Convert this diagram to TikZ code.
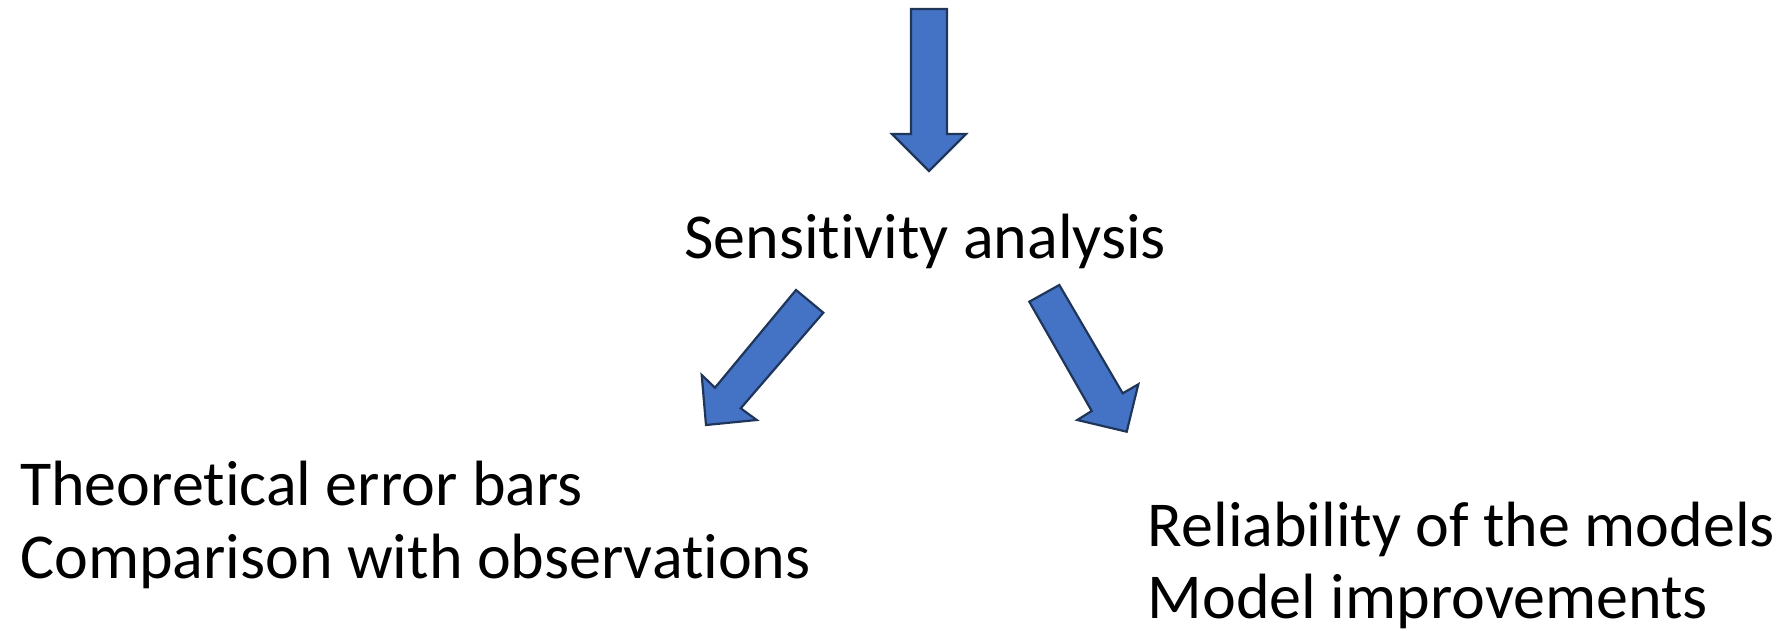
\documentclass[tikz,border=0pt]{standalone}
\usepackage{fontspec}
\setmainfont[Ligatures=NoCommon]{Carlito}
\definecolor{arrowfill}{HTML}{4472C4}
\definecolor{arrowline}{HTML}{1F3559}
\tikzset{
  blockarrow/.style={fill=arrowfill, draw=arrowline, line width=2.2pt, line join=miter},
  label/.style={anchor=base west, inner sep=0pt, font=\fontsize{64}{74}\selectfont}
}
\begin{document}
\begin{tikzpicture}[x=1pt,y=-1pt]
\useasboundingbox (0,0) rectangle (1778,631);
% top arrow
\draw[blockarrow] (911,9) -- (947,9) -- (947,134) -- (966,134) -- (929,171) -- (892,134) -- (911,134) -- cycle;
% texts
\node[label] (sens) at (684,258.6) {Sensitivity analysis};
\node[label] (teb) at (20,505.8) {Theoretical error bars};
\node[label] (cmp) at (20,578.3) {Comparison with observations};
\node[label] (rel) at (1147.6,546.6) {Reliability of the models};
\node[label] (imp) at (1147.6,618) {Model improvements};
% left arrow
\draw[blockarrow] (796,290) -- (823.3,312.7) -- (740.7,408.3) -- (756.7,420) -- (706,425) -- (701.7,375) -- (715,387.7) -- cycle;
% right arrow
\draw[blockarrow] (1029.3,301.7) -- (1059.3,285) -- (1122.7,393.3) -- (1138.3,384.3) -- (1126.7,431.7) -- (1077.3,420) -- (1091.7,411) -- cycle;
\end{tikzpicture}
\end{document}
